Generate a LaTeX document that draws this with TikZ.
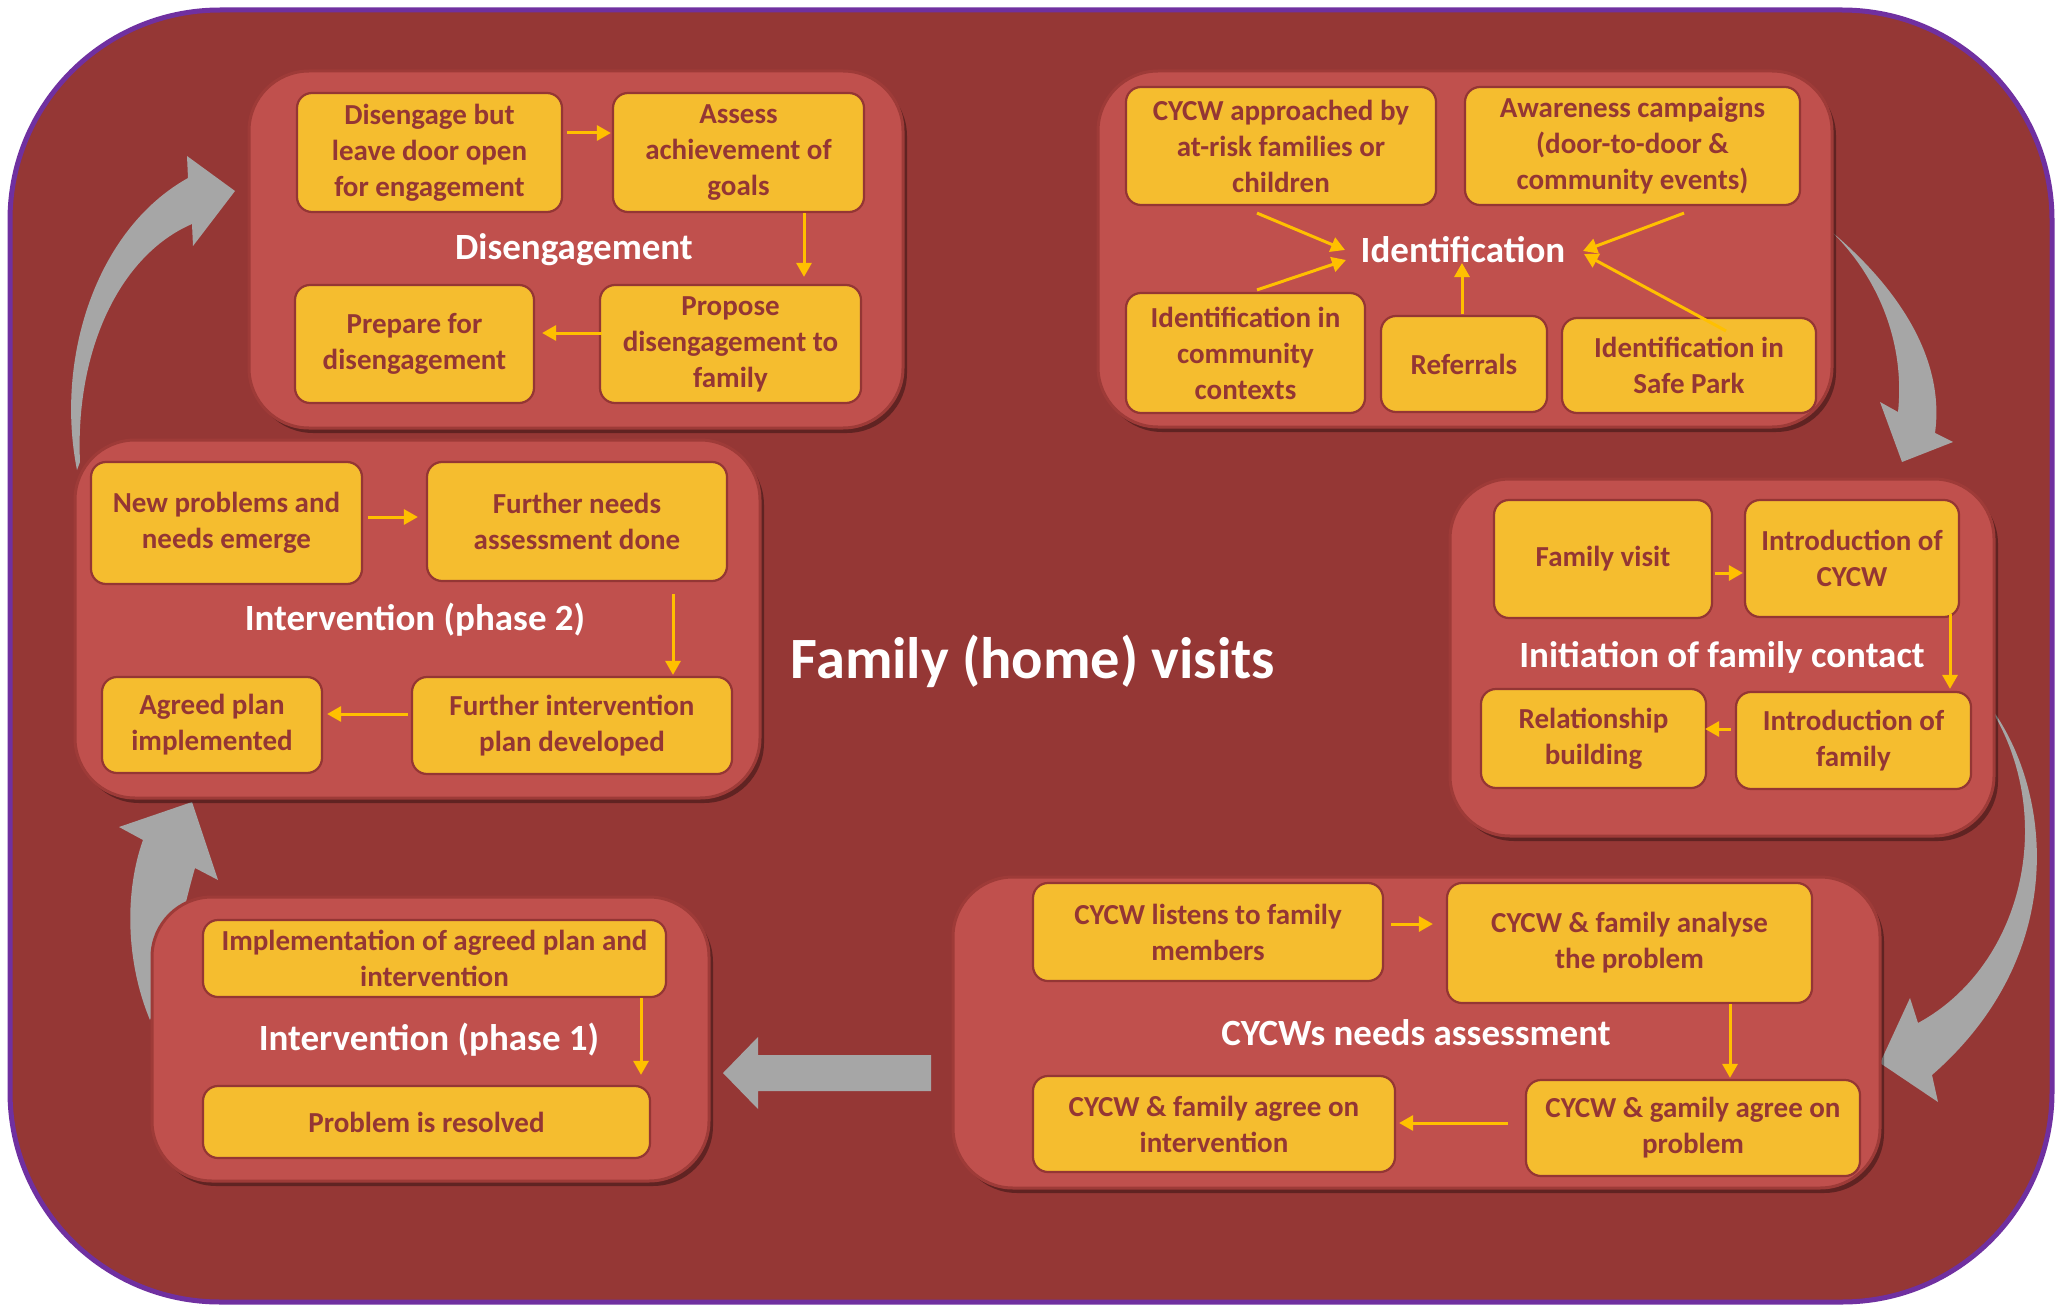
\documentclass[tikz,border=0pt]{standalone}
\usepackage{fontspec}
\setmainfont{Carlito}
\usetikzlibrary{shadows,arrows.meta,calc}
\definecolor{bgred}{HTML}{953735}
\definecolor{grpfill}{HTML}{C0504D}
\definecolor{grpline}{HTML}{9E3B38}
\definecolor{boxfill}{HTML}{F5BD2F}
\definecolor{boxline}{HTML}{943634}
\definecolor{txtred}{HTML}{943634}
\definecolor{arrylw}{HTML}{FFC000}
\definecolor{arrgray}{HTML}{A6A6A6}
\definecolor{purp}{HTML}{7030A0}
\tikzset{
  ybox/.style={draw=boxline,line width=2.2pt,fill=boxfill,rounded corners=15pt,
    text=txtred,font=\fontsize{29}{36}\selectfont\bfseries,align=center,inner sep=0pt},
  grp/.style={draw=grpline,line width=3pt,fill=grpfill,rounded corners=60pt,inner sep=0pt,
    drop shadow={shadow xshift=4pt,shadow yshift=-5pt,fill=black,opacity=0.35}},
  gtitle/.style={text=white,font=\fontsize{37}{44}\selectfont\bfseries,inner sep=0pt},
  sarr/.style={draw=arrylw,line width=3pt,-{Triangle[length=14pt,width=15pt]}},
  bigarr/.style={fill=arrgray,draw=none}
}
\begin{document}
\begin{tikzpicture}[x=1pt,y=-1pt]
\fill[white] (0,0) rectangle (2059,1308);
\useasboundingbox (0,0) rectangle (2059,1308);
% outer background
\draw[purp,line width=5pt,fill=bgred,rounded corners=210pt] (10,10) rectangle (2052,1302);

% big gray arrows (behind the groups)
\fill[bigarr] (1833,233) .. controls (1900,290) and (1945,360) .. (1935,433) -- (1953,442) -- (1902,462) -- (1880,402) -- (1898,412) .. controls (1905,345) and (1880,280) .. (1833,233) -- cycle;
\fill[bigarr] (1985,700) .. controls (2050,780) and (2075,950) .. (1932,1075) -- (1938,1102) -- (1880,1063) -- (1910,998) -- (1918,1023) .. controls (2025,965) and (2060,810) .. (1985,700) -- cycle;
\fill[bigarr] (723,1073) -- (758,1037) -- (758,1055) -- (931,1055) -- (931,1091) -- (758,1091) -- (758,1109) -- cycle;
\fill[bigarr] (150,1020) .. controls (125,960) and (125,890) .. (143,840) -- (119,827) -- (192,802) -- (218,880) -- (195,868) .. controls (180,920) and (170,980) .. (150,1020) -- cycle;
\fill[bigarr] (77,470) .. controls (55,360) and (95,230) .. (188,178) -- (187,156) -- (235,191) -- (193,246) -- (192,224) .. controls (120,255) and (75,350) .. (80,462) -- cycle;

% group boxes
\node[grp,minimum width=654pt,minimum height=357pt] (gdis) at (576,249.5) {};
\node[grp,minimum width=734pt,minimum height=356pt] (gid) at (1465,249) {};
\node[grp,minimum width=544pt,minimum height=357pt] (ginit) at (1722,657.5) {};
\node[grp,minimum width=927pt,minimum height=311pt] (gneeds) at (1416.5,1032.5) {};
\node[grp,minimum width=557pt,minimum height=284pt] (gph1) at (430.5,1039) {};
\node[grp,minimum width=685pt,minimum height=358pt] (gph2) at (417.5,619) {};

% Disengagement
\node[ybox,minimum width=265pt,minimum height=119pt] (d1) at (429.5,152.5) {Disengage but\\leave door open\\for engagement};
\node[ybox,minimum width=251pt,minimum height=119pt] (d2) at (738.5,152.5) {Assess\\achievement of\\goals};
\node[ybox,minimum width=261pt,minimum height=118pt] (d3) at (730.5,344) {Propose\\disengagement to\\family};
\node[ybox,minimum width=239pt,minimum height=118pt] (d4) at (414.5,344) {Prepare for\\disengagement};
\node[gtitle] (tdis) at (574,250) {Disengagement};
\draw[sarr] ($(d1.east)+(4,-19.5)$) -- ($(d2.west)+(-1,-19.5)$);
\draw[sarr] ($(d2.south)+(65.5,0)$) -- ($(d3.north)+(73.5,-7)$);
\draw[sarr] ($(d3.west)+(3,-11)$) -- ($(d4.east)+(7,-11)$);

% Identification
\node[ybox,minimum width=310pt,minimum height=118pt] (i1) at (1281,146) {CYCW approached by\\at-risk families or\\children};
\node[ybox,minimum width=335pt,minimum height=118pt] (i2) at (1632.5,146) {Awareness campaigns\\(door-to-door \&\\community events)};
\node[ybox,minimum width=239pt,minimum height=120pt] (i3) at (1245.5,353) {Identification in\\community\\contexts};
\node[ybox,minimum width=166pt,minimum height=96pt] (i4) at (1464,364) {Referrals};
\node[ybox,minimum width=254pt,minimum height=95pt] (i5) at (1689,365.5) {Identification in\\Safe Park};
\node[gtitle] (tid) at (1463,250) {Identification};
\draw[sarr] ($(i1.south)+(-24,7)$) -- ($(tid.center)+(-118,0)$);
\draw[sarr] ($(i2.south)+(51.5,7)$) -- ($(tid.center)+(120,1)$);
\draw[sarr] ($(i3.north)+(11.5,-2)$) -- ($(tid.center)+(-117,10)$);
\draw[sarr] ($(i4.north)+(-2,-1)$) -- ($(tid.center)+(-1,13)$);
\draw[sarr] ($(i5.north)+(37,14)$) -- ($(tid.center)+(121,4)$);

% Initiation of family contact
\node[ybox,minimum width=218pt,minimum height=118pt] (n1) at (1603,559) {Family visit};
\node[ybox,minimum width=214pt,minimum height=117pt] (n2) at (1852,558.5) {Introduction of\\CYCW};
\node[ybox,minimum width=235pt,minimum height=97pt] (n3) at (1853.5,740.5) {Introduction of\\family};
\node[ybox,minimum width=225pt,minimum height=99pt] (n4) at (1593.5,738.5) {Relationship\\building};
\node[gtitle] (tinit) at (1722,657) {Initiation of family contact};
\draw[sarr] ($(n1.east)+(2,14)$) -- ($(n2.west)+(-1,14.5)$);
\draw[sarr] ($(n2.south)+(98,-4)$) -- ($(n3.north)+(96.5,-2)$);
\draw[sarr] ($(n3.west)+(-4,-11.5)$) -- ($(n4.east)+(-2,-9.5)$);

% CYCWs needs assessment
\node[ybox,minimum width=350pt,minimum height=98pt] (c1) at (1208,932) {CYCW listens to family\\members};
\node[ybox,minimum width=365pt,minimum height=120pt] (c2) at (1629.5,943) {CYCW \& family analyse\\the problem};
\node[ybox,minimum width=334pt,minimum height=96pt] (c3) at (1693,1128) {CYCW \& gamily agree on\\problem};
\node[ybox,minimum width=362pt,minimum height=96pt] (c4) at (1214,1124) {CYCW \& family agree on\\intervention};
\node[gtitle] (tneeds) at (1416,1033) {CYCWs needs assessment};
\draw[sarr] ($(c1.east)+(7,-8)$) -- ($(c2.west)+(-13,-19)$);
\draw[sarr] ($(c2.south)+(100.5,0)$) -- ($(c3.north)+(37,-1)$);
\draw[sarr] ($(c3.west)+(-17,-5)$) -- ($(c4.east)+(3,-1)$);

% Intervention (phase 1)
\node[ybox,minimum width=463pt,minimum height=77pt] (p1) at (434.5,958.5) {Implementation of agreed plan and\\intervention};
\node[ybox,minimum width=447pt,minimum height=72pt] (p2) at (426.5,1122) {Problem is resolved};
\node[gtitle] (tph1) at (429,1040) {Intervention (phase 1)};
\draw[sarr] ($(p1.south)+(206.5,0)$) -- ($(p2.north)+(214.5,-10)$);

% Intervention (phase 2)
\node[ybox,minimum width=271pt,minimum height=122pt] (q1) at (226.5,523) {New problems and\\needs emerge};
\node[ybox,minimum width=300pt,minimum height=119pt] (q2) at (577,521.5) {Further needs\\assessment done};
\node[ybox,minimum width=320pt,minimum height=97pt] (q3) at (572,725.5) {Further intervention\\plan developed};
\node[ybox,minimum width=220pt,minimum height=96pt] (q4) at (212,725) {Agreed plan\\implemented};
\node[gtitle] (tph2) at (415,620) {Intervention (phase 2)};
\draw[sarr] ($(q1.east)+(5,-6)$) -- ($(q2.west)+(-8,-4.5)$);
\draw[sarr] ($(q2.south)+(96,12)$) -- ($(q3.north)+(101,-1)$);
\draw[sarr] ($(q3.west)+(-3,-11.5)$) -- ($(q4.east)+(4,-11)$);

% main title
\node[text=white,font=\fontsize{58.5}{68}\selectfont\bfseries,inner sep=0pt] (tmain) at (1033,661) {Family (home) visits};
\end{tikzpicture}
\end{document}
